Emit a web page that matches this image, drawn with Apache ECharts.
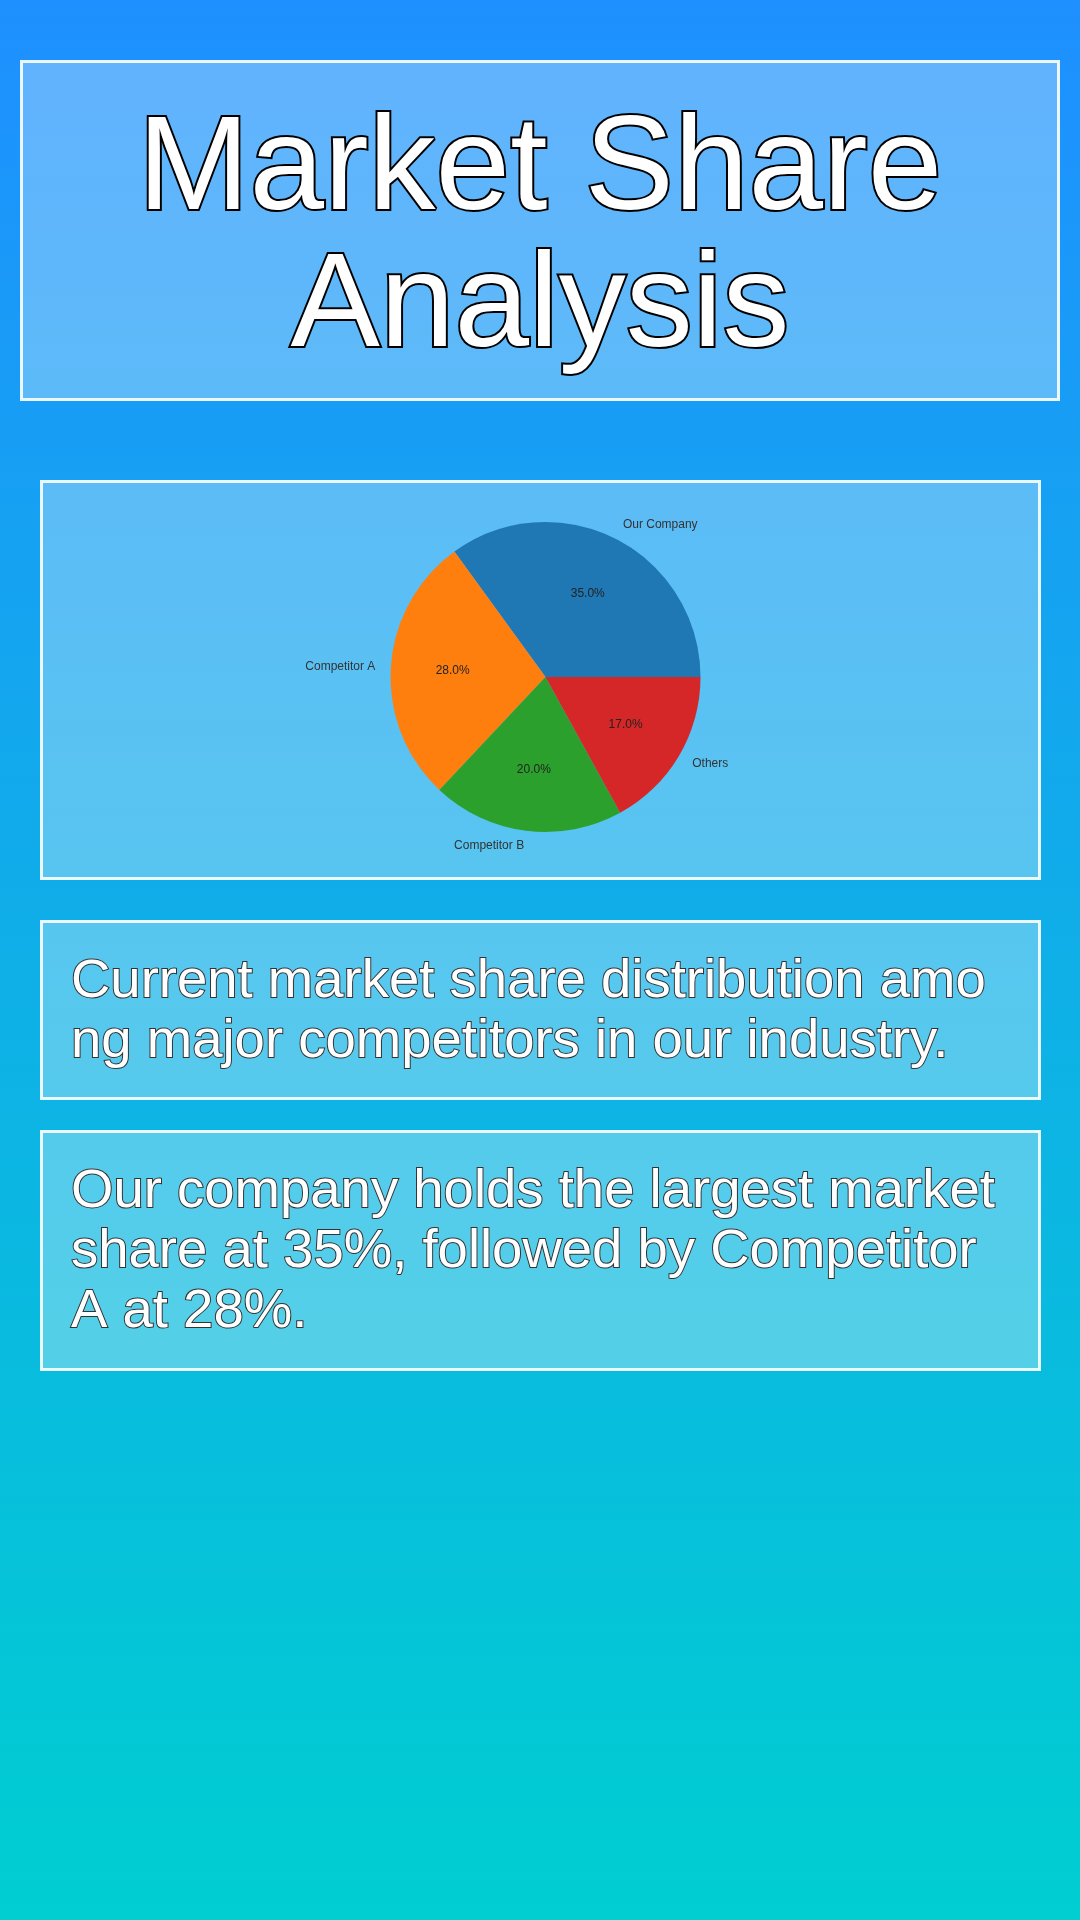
<!DOCTYPE html>
<html>
<head>
<meta charset="utf-8">
<script src="https://cdn.jsdelivr.net/npm/echarts@6/dist/echarts.min.js"></script>
<style>
html, body { margin: 0; padding: 0; }
#c { width: 1080px; height: 1920px; }
</style>
</head>
<body>
<div id="c"></div>
<script>
// ---- data ----
const titleLines = ['Market Share', 'Analysis'];
const categories = ['Our Company', 'Competitor A', 'Competitor B', 'Others'];
const shares = [35, 28, 20, 17];
const sliceColors = ['#1f77b4', '#ff7f0e', '#2ca02c', '#d62728'];
const descriptionLines = ['Current market share distribution amo', 'ng major competitors in our industry.'];
const insightLines = ['Our company holds the largest market', 'share at 35%, followed by Competitor', 'A at 28%.'];

// ---- chart ----
const chart = echarts.init(document.getElementById('c'), null, { renderer: 'canvas', width: 1080, height: 1920 });
const FONT = '"Liberation Sans", Arial, Helvetica, sans-serif';

const boxStyle = { fill: 'rgba(255,255,255,0.3)', stroke: 'rgba(255,255,255,0.9)', lineWidth: 3 };
function box(x, y, w, h) {
  return { type: 'rect', silent: true, z: 0, shape: { x: x, y: y, width: w, height: h }, style: boxStyle };
}
function textBlock(lines, x, y, size, lh, extra) {
  return {
    type: 'text', silent: true, z: 1, x: x, y: y,
    style: Object.assign({
      text: lines.join('\n'),
      font: size + 'px ' + FONT,
      fill: '#ffffff',
      lineHeight: lh,
      verticalAlign: 'top', textVerticalAlign: 'top'
    }, extra)
  };
}

const pieData = categories.map((name, i) => ({ name: name, value: shares[i], itemStyle: { color: sliceColors[i] } }));
const pctData = categories.map((name, i) => ({ name: name, value: shares[i] }));

const option = {
  animation: false,
  backgroundColor: new echarts.graphic.LinearGradient(0, 0, 0, 1, [
    { offset: 0, color: '#1E90FF' },
    { offset: 1, color: '#00CED1' }
  ]),
  title: {
    text: titleLines.join('\n'),
    left: 'center',
    top: 104,
    padding: 0,
    textStyle: {
      fontFamily: FONT, fontSize: 134, fontWeight: 'normal', lineHeight: 137,
      color: '#ffffff',
      textBorderColor: '#000000', textBorderWidth: 4,
      textShadowColor: '#000000', textShadowOffsetX: 3, textShadowOffsetY: 3, textShadowBlur: 0
    }
  },
  graphic: [
    box(21.5, 61.5, 1037, 338),
    box(41.5, 481.5, 998, 397),
    box(41.5, 921.5, 998, 177),
    box(41.5, 1131.5, 998, 238),
    textBlock(descriptionLines, 71, 952, 54.5, 60, { stroke: '#333333', lineWidth: 2 }),
    textBlock(insightLines, 71, 1162, 54.5, 60, { stroke: '#333333', lineWidth: 2 })
  ],
  series: [
    {
      type: 'pie',
      center: [545.5, 677],
      radius: 155,
      startAngle: 0,
      clockwise: false,
      avoidLabelOverlap: false,
      silent: true,
      z: 2,
      emphasis: { disabled: true },
      label: {
        show: true, position: 'outside', formatter: '{b}',
        color: '#333333', fontSize: 12, fontFamily: FONT,
        distanceToLabelLine: 0
      },
      labelLine: { show: false, length: 15.5, length2: 0 },
      itemStyle: { borderWidth: 0 },
      data: pieData
    },
    {
      type: 'pie',
      center: [545.5, 677],
      radius: 180,
      startAngle: 0,
      clockwise: false,
      avoidLabelOverlap: false,
      silent: true,
      z: 3,
      emphasis: { disabled: true },
      itemStyle: { color: 'transparent', borderWidth: 0 },
      label: {
        show: true, position: 'inside',
        formatter: function (p) { return p.percent.toFixed(1) + '%'; },
        color: '#222222', fontSize: 12, fontFamily: FONT
      },
      labelLine: { show: false },
      data: pctData
    }
  ]
};
chart.setOption(option);
</script>
</body>
</html>
